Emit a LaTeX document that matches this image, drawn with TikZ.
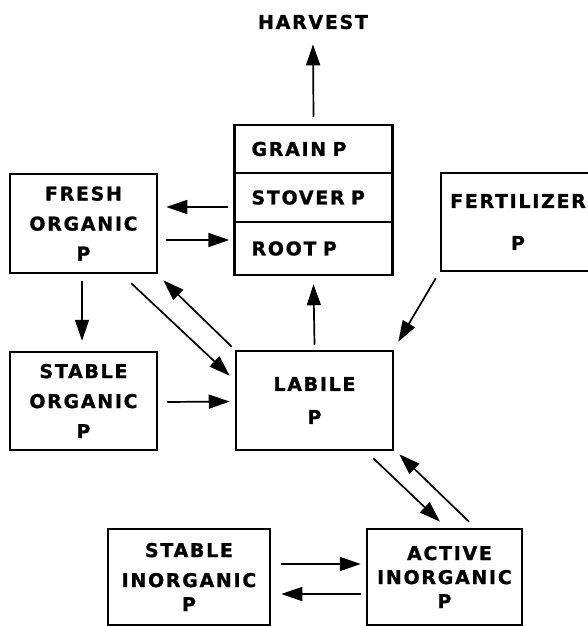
\documentclass[tikz,border=0pt]{standalone}
\usepackage{fontspec}
\usetikzlibrary{arrows.meta}
\newfontfamily\lblfont{DejaVu Sans}[LetterSpace=9,FakeBold=1]
\begin{document}
\begin{tikzpicture}[x=1pt,y=-1pt,
  txt/.style={inner sep=0pt, align=center, font=\lblfont\bfseries\fontsize{19}{30}\selectfont},
  box/.style={txt, draw, line width=2.5pt},
  plant/.style={box, text width=124pt, align=left, inner xsep=17pt, minimum width=158pt},
  arr/.style={line width=1.7pt, -{Triangle[length=21pt,width=14pt]}}]
\useasboundingbox (0,0) rectangle (588,626);

\node[txt] (harvest) at (313,22) {HARVEST};
\node[plant, minimum height=48pt] (grain) at (313.5,149) {GRAIN P};
\node[plant, minimum height=49pt] (stover) at (313.5,197.5) {STOVER P};
\node[plant, minimum height=53pt] (root) at (313.5,248.5) {ROOT P};

\node[box, minimum width=147pt, minimum height=99pt] (fresh) at (83.5,223.5) {FRESH\\ORGANIC\\P};
\node[box, minimum width=147pt, minimum height=98pt] (stableorg) at (83.5,401) {STABLE\\ORGANIC\\P};
\node[box, minimum width=157pt, minimum height=99pt] (labile) at (314.5,400.5) {LABILE\\[3pt]P};
\node[box, minimum width=154pt, minimum height=98pt] (fert) at (518,222) {FERTILIZER\\[12pt]P};
\node[box, minimum width=162pt, minimum height=96pt, font=\lblfont\bfseries\fontsize{19}{24}\selectfont] (stableinorg) at (189,577) {STABLE\\[6pt]INORGANIC\\P};
\node[box, minimum width=155pt, minimum height=96pt, font=\lblfont\bfseries\fontsize{19}{24}\selectfont] (active) at (444.5,577) {\hspace*{10pt}ACTIVE\\INORGANIC\\P};

\draw[arr] ([shift={(0,-7)}]grain.north) -- ([shift={(0,15)}]harvest.south);
\draw[arr] ([shift={(-5,9.5)}]stover.west) -- ([shift={(8,-16.5)}]fresh.east);
\draw[arr] ([shift={(8,16.5)}]fresh.east) -- ([shift={(-4,-8.5)}]root.west);
\draw[arr] ([shift={(-1.5,7)}]fresh.south) -- ([shift={(-1.5,-10)}]stableorg.north);
\draw[arr] ([shift={(9,1)}]stableorg.east) -- ([shift={(-5,1)}]labile.west);
\draw[arr] ([shift={(-27,9)}]fresh.south east) -- ([shift={(-5,26)}]labile.north west);
\draw[arr] ([shift={(-3,-3)}]labile.north west) -- ([shift={(5,6)}]fresh.south east);
\draw[arr] ([shift={(0,-5)}]labile.north) -- ([shift={(0,8)}]root.south);
\draw[arr] ([shift={(-4,6)}]fert.south west) -- ([shift={(4,-8)}]labile.north east);
\draw[arr] ([shift={(-21,7)}]labile.south east) -- ([shift={(-4.5,-6)}]active.north);
\draw[arr] ([shift={(24.5,-6)}]active.north) -- ([shift={(5,3)}]labile.south east);
\draw[arr] ([shift={(10,-13)}]stableinorg.east) -- ([shift={(-5,-13)}]active.west);
\draw[arr] ([shift={(-5,17)}]active.west) -- ([shift={(10,17)}]stableinorg.east);
\end{tikzpicture}
\end{document}
